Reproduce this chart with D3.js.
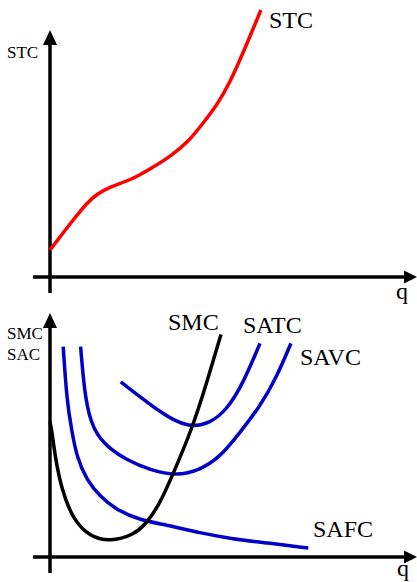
<!DOCTYPE html>
<html>
<head>
<meta charset="utf-8">
<script src="https://cdn.jsdelivr.net/npm/d3@7"></script>
<style>
  body { margin: 0; background: #fff; }
  text { font-family: "Liberation Serif", "Times New Roman", serif; fill: #000; }
</style>
</head>
<body>
<div id="chart"></div>
<script>
const width = 417;
const height = 582;

// quantity q and cost values
const stc_q    = [0, 0.33, 0.77, 1.23, 1.57, 2.0, 2.57, 3.0, 3.33, 4.0, 4.67, 5.1, 5.57, 6.0, 6.33, 6.67, 7.03];
const stc_cost = [0.9, 1.33, 1.9, 2.47, 2.77, 3.0, 3.2, 3.4, 3.6, 4.0, 4.57, 5.13, 5.73, 6.5, 7.23, 8.03, 8.9];

const smc_q    = [0, 0.06, 0.17, 0.39, 0.78, 1.33, 2.0, 2.78, 3.22, 3.67, 4.11, 4.72, 5.22, 5.7];
const smc_cost = [4.5, 4.23, 3.34, 2.23, 1.23, 0.68, 0.51, 0.73, 1.12, 1.79, 2.79, 4.23, 5.79, 7.42];

const safc_q    = [0.44, 0.56, 0.72, 0.89, 1.22, 1.67, 2.22, 3.0, 3.89, 5.0, 6.1, 7.22, 8.61];
const safc_cost = [7.01, 5.23, 4.23, 3.34, 2.57, 2.01, 1.57, 1.23, 1.07, 0.8, 0.6, 0.47, 0.3];

const savc_q    = [1.02, 1.17, 1.44, 1.89, 2.56, 3.33, 4.22, 5.0, 5.67, 6.22, 7.0, 7.56, 8.03];
const savc_cost = [7.01, 5.23, 4.23, 3.68, 3.23, 2.9, 2.7, 2.9, 3.34, 4.01, 5.01, 6.01, 7.12];

const satc_q    = [2.36, 3.0, 3.67, 4.22, 4.73, 5.33, 5.89, 6.44, 7.0];
const satc_cost = [5.84, 5.34, 4.84, 4.51, 4.34, 4.46, 4.9, 5.79, 7.12];

const blue = "#0000c8";

const svg = d3.select("#chart")
  .append("svg")
  .attr("width", width)
  .attr("height", height);

const x = d3.scaleLinear().domain([0, 12]).range([50, 410]);
const y_top = d3.scaleLinear().domain([0, 8]).range([277, 37]);
const y_bot = d3.scaleLinear().domain([0, 8]).range([557, 317]);

function zip(qs, cs) {
  return qs.map(function(q, i) { return [q, cs[i]]; });
}

// axes with arrow heads
function drawAxes(ys, yTip) {
  const g = svg.append("g");
  const x0 = x(0), y0 = ys(0);
  const xStart = x(-0.57), xTip = 417;
  const yEnd = y0 + 16;

  g.append("line")
    .attr("x1", xStart).attr("y1", y0)
    .attr("x2", xTip - 10).attr("y2", y0)
    .attr("stroke", "#000").attr("stroke-width", 3.5);
  g.append("path")
    .attr("d", "M" + xTip + "," + y0 + "L" + (xTip - 13) + "," + (y0 - 6.5) + "L" + (xTip - 13) + "," + (y0 + 6.5) + "Z")
    .attr("fill", "#000");

  g.append("line")
    .attr("x1", x0).attr("y1", yEnd)
    .attr("x2", x0).attr("y2", yTip + 10)
    .attr("stroke", "#000").attr("stroke-width", 3.5);
  g.append("path")
    .attr("d", "M" + x0 + "," + yTip + "L" + (x0 - 7) + "," + (yTip + 15) + "L" + (x0 + 7) + "," + (yTip + 15) + "Z")
    .attr("fill", "#000");
}

drawAxes(y_top, 30);
drawAxes(y_bot, 313);

function drawCurve(data, ys, color) {
  const line = d3.line()
    .x(function(d) { return x(d[0]); })
    .y(function(d) { return ys(d[1]); })
    .curve(d3.curveBasis);
  svg.append("path")
    .datum(data)
    .attr("d", line)
    .attr("fill", "none")
    .attr("stroke", color)
    .attr("stroke-width", 3.5)
    .attr("stroke-linecap", "butt");
}

drawCurve(zip(stc_q, stc_cost), y_top, "#ff0000");
drawCurve(zip(safc_q, safc_cost), y_bot, blue);
drawCurve(zip(savc_q, savc_cost), y_bot, blue);
drawCurve(zip(satc_q, satc_cost), y_bot, blue);
drawCurve(zip(smc_q, smc_cost), y_bot, "#000");

// labels
function label(t, px, py, size) {
  svg.append("text")
    .attr("x", px).attr("y", py)
    .style("font-size", size + "px")
    .text(t);
}

label("STC", 7, 58, 17);
label("STC", 269, 28, 24);
label("q", 396, 299, 24);

label("SMC", 7, 339, 17);
label("SAC", 7, 360, 17);
label("SMC", 168, 330, 24);
label("SATC", 243, 333, 24);
label("SAVC", 300, 365, 24);
label("SAFC", 313, 537, 24);
label("q", 397, 576, 24);
</script>
</body>
</html>
